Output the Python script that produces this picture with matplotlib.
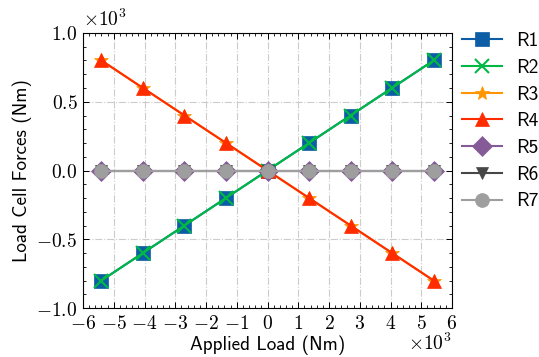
import matplotlib
matplotlib.use("Agg")
import matplotlib.pyplot as plt
from matplotlib.ticker import AutoMinorLocator, FuncFormatter

applied_load = [-5400, -4050, -2700, -1350, 0, 1350, 2700, 4050, 5400]
r1 = [-800, -600, -400, -200, 0, 200, 400, 600, 800]
r2 = [-800, -600, -400, -200, 0, 200, 400, 600, 800]
r3 = [800, 600, 400, 200, 0, -200, -400, -600, -800]
r4 = [800, 600, 400, 200, 0, -200, -400, -600, -800]
r5 = [0, 0, 0, 0, 0, 0, 0, 0, 0]
r6 = [0, 0, 0, 0, 0, 0, 0, 0, 0]
r7 = [0, 0, 0, 0, 0, 0, 0, 0, 0]
labels = ["R1", "R2", "R3", "R4", "R5", "R6", "R7"]

plt.rcParams['mathtext.fontset'] = 'cm'

colors = ['#0C5DA5', '#00B945', '#FF9500', '#FF2C00', '#845B97', '#474747', '#9e9e9e']
markers = ['s', 'x', '*', '^', 'D', 'v', 'o']
sizes = [10, 10, 10, 10, 10, 9, 10]

fig = plt.figure(figsize=(5.39, 3.57), dpi=100)
ax = fig.add_axes([83/539, 1 - 308/357, (452-83)/539, (308-33)/357])

series = [r1, r2, r3, r4, r5, r6, r7]
for ys, lab, c, m, s in zip(series, labels, colors, markers, sizes):
    ax.plot(applied_load, ys, color=c, marker=m, markersize=s, linewidth=1.5,
            markeredgewidth=1.5 if m == 'x' else 0.5, label=lab)

ax.set_xlim(-6000, 6000)
ax.set_ylim(-1000, 1000)
ax.set_xticks(range(-6000, 6001, 1000))
ax.set_yticks([-1000, -500, 0, 500, 1000])
ax.xaxis.set_minor_locator(AutoMinorLocator(5))
ax.yaxis.set_minor_locator(AutoMinorLocator(5))
ax.xaxis.set_major_formatter(FuncFormatter(lambda v, p: r"$%d$" % round(v / 1000)))
ax.yaxis.set_major_formatter(FuncFormatter(lambda v, p: r"$%.1f$" % (v / 1000)))

ax.tick_params(which='both', direction='in', top=True, right=True, labelsize=14)
ax.tick_params(which='major', length=4, width=0.7, pad=4)
ax.tick_params(which='minor', length=2, width=0.6)
ax.grid(True, which='major', linestyle='-.', color='#cccccc', linewidth=0.8)
ax.set_axisbelow(True)
for sp in ax.spines.values():
    sp.set_linewidth(0.8)

ax.text(0.0, 1.01, r"$\times10^{3}$", transform=ax.transAxes, fontsize=14,
        ha='left', va='bottom')
ax.text(1.0, -0.09, r"$\times10^{3}$", transform=ax.transAxes, fontsize=14,
        ha='right', va='top')

sans = ['cmss10', 'DejaVu Sans']
ax.set_xlabel("Applied Load (Nm)", fontsize=13.8, labelpad=2, family=sans)
ax.set_ylabel("Load Cell Forces (Nm)", fontsize=13.8, labelpad=3, family=sans)

fig.legend(loc='upper left', bbox_to_anchor=(462/539, 1 - 32/357), frameon=False,
           prop={'family': sans, 'size': 14}, borderpad=0.0,
           handlelength=2.05, handletextpad=0.72, labelspacing=0.45, borderaxespad=0.0)

fig.savefig("out.png", dpi=100)
